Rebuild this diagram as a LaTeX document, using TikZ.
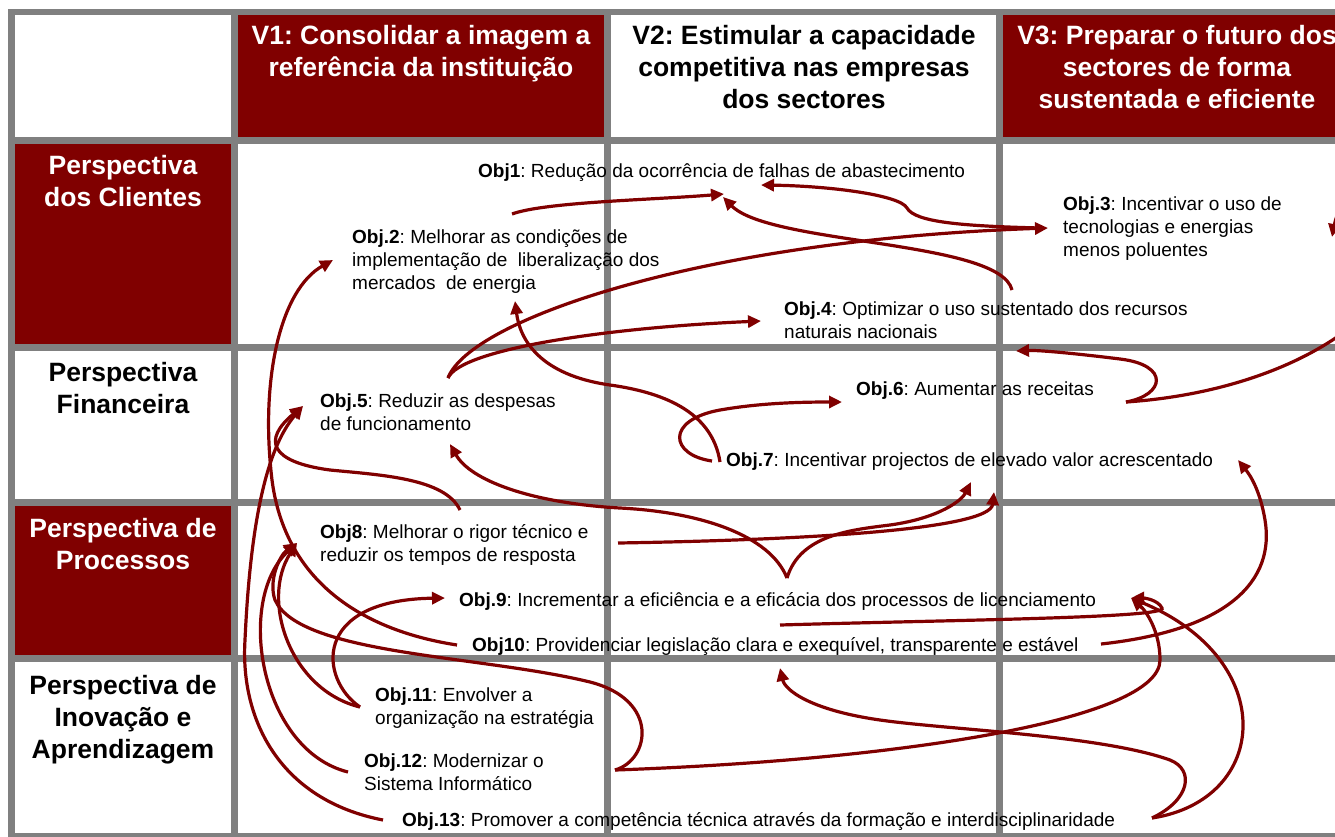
\documentclass[tikz,border=0pt]{standalone}
\usepackage{fontspec}
\setmainfont{Liberation Sans}
\usetikzlibrary{arrows.meta}
\frenchspacing

\definecolor{bscred}{HTML}{800000}
\definecolor{bscgray}{HTML}{808080}

\begin{document}
\begin{tikzpicture}[x=1pt, y=-1pt,
    link/.style={draw=bscred, line width=3.2pt, -{Triangle[length=13pt,width=12pt]}},
    band/.style={fill=bscgray},
    redcell/.style={fill=bscred},
    obj/.style={anchor=north west, inner sep=0pt, align=left, font=\fontsize{19}{23}\selectfont},
    head/.style={anchor=north, inner sep=0pt, align=center, font=\bfseries\fontsize{26.5}{32}\selectfont},
  ]
  \useasboundingbox (0,0) rectangle (1335,836);
  \clip (0,0) rectangle (1335,836);

  % grid
  \fill[band] (8,9) rectangle (1360,840);
  \fill[white] (15,15) rectangle (1360,833);
  \fill[band] (231,15) rectangle (238,833);
  \fill[band] (604,15) rectangle (611,833);
  \fill[band] (996,15) rectangle (1003,833);
  \fill[band] (15,137) rectangle (1360,144);
  \fill[band] (15,344) rectangle (1360,351);
  \fill[band] (15,499) rectangle (1360,506);
  \fill[band] (15,655) rectangle (1360,662);

  \fill[redcell] (238,15) rectangle (604,137);
  \fill[redcell] (1003,15) rectangle (1360,137);
  \fill[redcell] (15,144) rectangle (231,344);
  \fill[redcell] (15,506) rectangle (231,655);

  % headers
  \path (421,25) node[head, text=white] (v1) {V1: Consolidar a imagem a\\referência da instituição};
  \path (804,25) node[head] (v2) {V2: Estimular a capacidade\\competitiva nas empresas\\dos sectores};
  \path (1177,25) node[head, text=white] (v3) {V3: Preparar o futuro dos\\sectores de forma\\sustentada e eficiente};

  \path (123,155) node[head, text=white] (p1) {Perspectiva\\dos Clientes};
  \path (123,362) node[head] (p2) {Perspectiva\\Financeira};
  \path (123,518) node[head, text=white] (p3) {Perspectiva de\\Processos};
  \path (123,675) node[head] (p4) {Perspectiva de\\Inovação e\\Aprendizagem};

  % objectives
  \path (478,163) node[obj] (o1) {\textbf{Obj1}: Redução da ocorrência de falhas de abastecimento};
  \path (352,230) node[obj] (o2) {\textbf{Obj.2}: Melhorar as condições de\\implementação de~ liberalização dos\\mercados~ de energia};
  \path (1063,197) node[obj] (o3) {\textbf{Obj.3}: Incentivar o uso de\\tecnologias e energias\\menos poluentes};
  \path (784,302) node[obj] (o4) {\textbf{Obj.4}: Optimizar o uso sustentado dos recursos\\naturais nacionais};
  \path (320,394) node[obj] (o5) {\textbf{Obj.5}: Reduzir as despesas\\de funcionamento};
  \path (856,382) node[obj] (o6) {\textbf{Obj.6}: Aumentar as receitas};
  \path (726,453) node[obj] (o7) {\textbf{Obj.7}: Incentivar projectos de elevado valor acrescentado};
  \path (320,524) node[obj] (o8) {\textbf{Obj8}: Melhorar o rigor técnico e\\reduzir os tempos de resposta};
  \path (459,592) node[obj] (o9) {\textbf{Obj.9}: Incrementar a eficiência e a eficácia dos processos de licenciamento};
  \path (472,637) node[obj] (o10) {\textbf{Obj10}: Providenciar legislação clara e exequível, transparente e estável};
  \path (375,688) node[obj] (o11) {\textbf{Obj.11}: Envolver a\\organização na estratégia};
  \path (364,754) node[obj] (o12) {\textbf{Obj.12}: Modernizar o\\Sistema Informático};
  \path (402,812) node[obj] (o13) {\textbf{Obj.13}: Promover a competência técnica através da formação e interdisciplinaridade};

  % links
  \draw[link] ([shift={(160,-16)}]o2.north west) .. controls (545,202) and (650,200) .. ([shift={(246,31)}]o1.north west);
  \draw[link] ([shift={(228,-12)}]o4.north west) .. controls (1000,240) and (770,245) .. ([shift={(245,34)}]o1.north west);
  \draw[link] ([shift={(-23,31)}]o3.north west) .. controls (960,226) and (915,222) .. (907,208)
    .. controls (900,195) and (830,186) .. ([shift={(283,22)}]o1.north west);
  \draw[link] ([shift={(128,-16)}]o5.north west) .. controls (470,320) and (700,240) .. ([shift={(-15,31)}]o3.north west);
  \draw[link] ([shift={(128,-16)}]o5.north west) .. controls (460,350) and (600,328) .. ([shift={(-23,19)}]o4.north west);
  \draw[link] ([shift={(-6,9)}]o7.north west) .. controls (712,410) and (660,392) .. (610,385)
    .. controls (540,375) and (520,340) .. ([shift={(163,71)}]o2.north west);
  \draw[link] ([shift={(-14,8)}]o7.north west) .. controls (670,455) and (665,420) .. (720,410)
    .. controls (760,403) and (800,402) .. ([shift={(-14,20)}]o6.north west);
  \draw[link] ([shift={(270,20)}]o6.north west) .. controls (1165,395) and (1170,365) .. (1120,359)
    .. controls (1080,354) and (1040,350) .. ([shift={(232,49)}]o4.north west);
  \draw[link] ([shift={(270,20)}]o6.north west) .. controls (1230,395) and (1320,360) .. (1370,310)
    .. controls (1400,250) and (1345,170) .. ([shift={(269,40)}]o3.north west);
  \draw[link] ([shift={(140,-14)}]o8.north west) .. controls (445,478) and (380,475) .. (330,470)
    .. controls (270,462) and (262,440) .. ([shift={(-17,12)}]o5.north west);
  \draw[link] ([shift={(328,-14)}]o9.north west) .. controls (770,535) and (700,512) .. (620,508)
    .. controls (530,503) and (470,480) .. ([shift={(130,50)}]o5.north west);
  \draw[link] ([shift={(328,-14)}]o9.north west) .. controls (800,535) and (850,530) .. (890,525)
    .. controls (940,518) and (962,500) .. ([shift={(245,29)}]o7.north west);
  \draw[link] ([shift={(298,19)}]o8.north west) .. controls (800,540) and (990,530) .. ([shift={(268,39)}]o7.north west);
  \draw[link] ([shift={(-15,8)}]o10.north west) .. controls (360,630) and (285,580) .. (272,480)
    .. controls (260,380) and (280,290) .. ([shift={(-19,30)}]o2.north west);
  \draw[link] ([shift={(-15,19)}]o11.north west) .. controls (290,690) and (260,600) .. ([shift={(-23,19)}]o8.north west);
  \draw[link] ([shift={(-15,19)}]o11.north west) .. controls (320,680) and (310,600) .. ([shift={(-14,6)}]o9.north west);
  \draw[link] ([shift={(-16,18)}]o12.north west) .. controls (260,750) and (235,600) .. ([shift={(-23,19)}]o8.north west);
  \draw[link] ([shift={(-19,8)}]o13.north west) .. controls (280,800) and (240,720) .. (245,640)
    .. controls (250,530) and (265,450) .. ([shift={(-17,12)}]o5.north west);
  \draw[link] ([shift={(251,16)}]o12.north west) .. controls (650,760) and (660,700) .. (590,682)
    .. controls (480,655) and (300,655) .. (275,600) .. controls (268,580) and (280,555) .. ([shift={(-23,19)}]o8.north west);
  \draw[link] ([shift={(251,16)}]o12.north west) .. controls (900,760) and (1160,720) .. (1160,660)
    .. controls (1160,630) and (1145,610) .. ([shift={(672,6)}]o9.north west);
  \draw[link] ([shift={(750,6)}]o13.north west) .. controls (1270,800) and (1280,660) .. ([shift={(672,6)}]o9.north west);
  \draw[link] ([shift={(750,6)}]o13.north west) .. controls (1190,800) and (1195,770) .. (1170,760)
    .. controls (1100,735) and (950,730) .. (880,720) .. controls (810,710) and (785,690) .. ([shift={(308,31)}]o10.north west);
  \draw[link] ([shift={(308,-12)}]o10.north west) .. controls (950,620) and (1170,618) .. (1162,608)
    .. controls (1158,600) and (1145,598) .. ([shift={(672,6)}]o9.north west);
  \draw[link] ([shift={(629,7)}]o10.north west) .. controls (1230,630) and (1275,580) .. (1265,520)
    .. controls (1260,490) and (1250,475) .. ([shift={(512,7)}]o7.north west);

\end{tikzpicture}
\end{document}
